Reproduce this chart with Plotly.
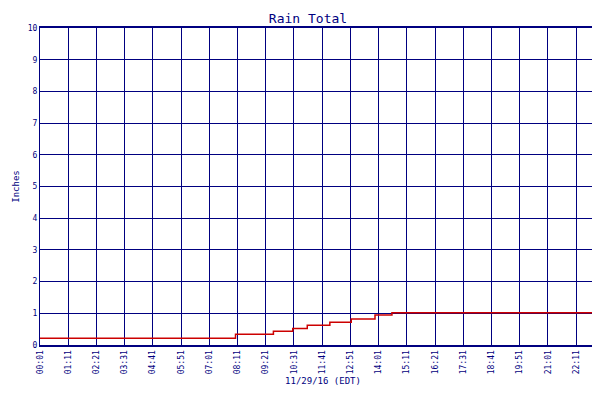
import plotly.graph_objects as go

# minutes since midnight, rain total (inches)
minutes = [1, 486, 580, 628, 664, 720, 773, 832, 874, 1405]
rain = [0.21, 0.34, 0.43, 0.52, 0.62, 0.72, 0.82, 0.95, 1.02, 1.02]

tick_vals = list(range(1, 1405, 70)) + [1403]
tick_text = ["%02d:%02d" % (m // 60, m % 60) for m in tick_vals[:-1]] + ["00:01"]

navy = "#000080"
fnt = dict(family="DejaVu Sans Mono", size=9, color=navy)

fig = go.Figure(go.Scatter(
    x=minutes, y=rain, mode="lines", line=dict(color="#cc0000", width=1.5, shape="hv"),
    name="Rain Total"))

fig.update_layout(
    width=600, height=400, plot_bgcolor="white", paper_bgcolor="white",
    margin=dict(l=32, r=2, t=20, b=63, autoexpand=False),
    title=dict(text="Rain Total", x=0.5, y=0.985, yanchor="top", xanchor="center",
               font=dict(family="DejaVu Sans Mono", size=13, color=navy)),
    showlegend=True,
    legend=dict(orientation="h", x=0.5, xanchor="center", y=-0.16, yanchor="top",
                font=dict(family="DejaVu Sans Mono", size=8, color=navy)),
    font=fnt,
)
fig.update_xaxes(range=[1, 1405], tickvals=tick_vals, ticktext=tick_text, tickangle=-90,
                 showgrid=True, gridcolor=navy, gridwidth=1, linecolor=navy, mirror=True,
                 showline=True, linewidth=2, tickfont=dict(size=8, color=navy),
                 automargin=False,
                 title=dict(text="11/29/16 (EDT)", font=fnt, standoff=4))
fig.update_yaxes(range=[0, 10], dtick=1, showgrid=True, gridcolor=navy, gridwidth=1,
                 linecolor=navy, mirror=True, showline=True, linewidth=1,
                 tickfont=dict(size=8, color=navy), automargin=False,
                 title=dict(text="Inches", font=fnt, standoff=6))

fig.write_html("out.html")
